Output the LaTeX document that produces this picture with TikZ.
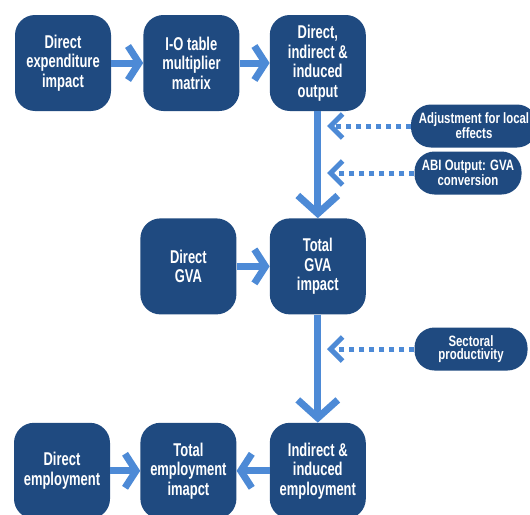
\documentclass[tikz,border=0pt]{standalone}
\usepackage{fontspec}
\setmainfont{Liberation Sans}[FakeStretch=0.7]
\newfontfamily\sidefont{Liberation Sans}[FakeStretch=0.76]
\usetikzlibrary{arrows.meta,positioning}
\definecolor{boxblue}{RGB}{31,74,128}
\definecolor{arrowblue}{RGB}{77,138,214}
\begin{document}
\begin{tikzpicture}[
  x=1pt,y=-1pt,
  node distance=32pt,
  n/.style={fill=boxblue,text=white,rounded corners=20pt,align=center,minimum width=96pt,minimum height=96pt,inner sep=2pt,font=\bfseries\fontsize{18.5}{19.5}\selectfont},
  side/.style={fill=boxblue,text=white,rounded corners=20pt,align=center,minimum height=43pt,inner sep=2pt,font=\sidefont\bfseries\fontsize{15}{13.5}\selectfont},
  arr/.style={draw=arrowblue,line width=7pt,-{Straight Barb[length=11pt,width=34pt]}},
  varr/.style={draw=arrowblue,line width=7pt,-{Straight Barb[length=18pt,width=40pt]}},
  dots/.style={draw=arrowblue,line width=5pt,dash pattern=on 5pt off 5pt,-{Straight Barb[length=12pt,width=24pt]}}
]
\useasboundingbox (0,0) rectangle (530,514);
% Row 1
\node[n] (dexp) at (63,63) {Direct\\expenditure\\impact};
\node[n,right=of dexp] (io) {I-O table\\multiplier\\matrix};
\node[n,right=30pt of io] (out) {Direct,\\indirect \&\\induced\\output};
% Row 2
\node[n,below=107pt of out] (gva) {Total\\GVA\\impact};
\node[n,left=33pt of gva] (dgva) {Direct\\GVA};
% Row 3
\node[n,below=108pt of gva] (ind) {Indirect \&\\induced\\employment};
\node[n,left=33pt of ind] (temp) {Total\\employment\\imapct};
\node[n,left=30pt of temp] (demp) {Direct\\employment};
% side inputs
\node[side,minimum width=126pt] (adj) at (474,126) {Adjustment for local\\effects};
\node[side,minimum width=107pt] (abi) at (468,173) {ABI Output: GVA\\conversion};
\node[side,minimum width=113pt] (sec) at (471,349) {Sectoral\\productivity};
\coordinate (adjend) at (327,126);
\coordinate (abiend) at (327,173);
\coordinate (secend) at (327,349);

\draw[arr] (dexp) -- (io);
\draw[arr] (io) -- (out);
\draw[varr] (out) -- (gva);
\draw[arr] (dgva) -- (gva);
\draw[varr] (gva) -- (ind);
\draw[arr] (demp) -- (temp);
\draw[arr] (ind) -- (temp);
\draw[dots] (adj) -- (adjend);
\draw[dots] (abi) -- (abiend);
\draw[dots] (sec) -- (secend);
\end{tikzpicture}
\end{document}
